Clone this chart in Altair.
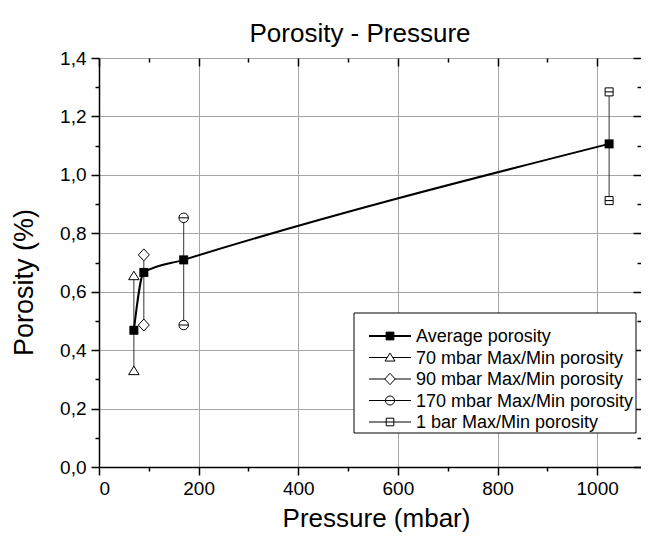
import altair as alt
import pandas as pd

# ---- data ----
pressure = [70, 90, 170, 1024]
avg_porosity = [0.468, 0.666, 0.709, 1.106]
max_porosity = [0.654, 0.726, 0.853, 1.284]
min_porosity = [0.329, 0.486, 0.486, 0.912]
series = [
    "Average porosity",
    "70 mbar Max/Min porosity",
    "90 mbar Max/Min porosity",
    "170 mbar Max/Min porosity",
    "1 bar Max/Min porosity",
]
title_text = ["Porosity - Pressure"]
x_major = [0, 200, 400, 600, 800, 1000]
x_minor = [100, 300, 500, 700, 900]
y_major = [0.0, 0.2, 0.4, 0.6, 0.8, 1.0, 1.2, 1.4]
y_minor = [0.1, 0.3, 0.5, 0.7, 0.9, 1.1, 1.3]

FONT = "Liberation Sans"

avg_df = pd.DataFrame({"pressure": pressure, "porosity": avg_porosity})
err_df = pd.DataFrame({"pressure": pressure, "lo": min_porosity, "hi": max_porosity,
                       "series": series[1:]})
mk_rows = []
for p, lo, hi, s in zip(pressure, min_porosity, max_porosity, series[1:]):
    mk_rows.append({"pressure": p, "porosity": hi, "series": s})
    mk_rows.append({"pressure": p, "porosity": lo, "series": s})
mk_df = pd.DataFrame(mk_rows)
leg_df = pd.DataFrame({"series": series})
box_df = pd.DataFrame({"series": series[:1]})
title_df = pd.DataFrame({"t": title_text})

# marker shapes (unit = 5px at size 100)
TRI = "M0,-0.95L1.05,0.75L-1.05,0.75Z"
DIA = "M0,-1.2L1.1,0L0,1.2L-1.1,0Z"
CIR = "M-0.95,0A0.95,0.95 0 1,1 0.95,0A0.95,0.95 0 1,1 -0.95,0ZM-0.95,0L0.95,0"
SQL = "M-0.8,-0.8L0.8,-0.8L0.8,0.8L-0.8,0.8ZM-0.8,0L0.8,0"
plot_shapes = [TRI, DIA, CIR, SQL]
legend_shapes = ["M-0.82,-0.82L0.82,-0.82L0.82,0.82L-0.82,0.82Z"] + plot_shapes

xscale = alt.Scale(domain=[0, 1088], nice=False, zero=False)
yscale = alt.Scale(domain=[0, 1.4], nice=False, zero=False)
YLAB = "replace(format(datum.value, '.1f'), '.', ',')"

common = dict(tickColor="black", tickWidth=1.5, labelFont=FONT, labelColor="black",
              titleFont=FONT, titleColor="black", titleFontWeight="normal")

ax_x_major = alt.Axis(values=x_major, tickSize=8, grid=True, gridColor="#a6a6a6",
                      gridWidth=1, domainColor="black", domainWidth=1.5, labelFontSize=19,
                      labelPadding=4, format="d", title="Pressure (mbar)",
                      titleFontSize=26, titleX=277, titleY=59, titleBaseline="alphabetic",
                      orient="bottom", **common)
ax_x_minor = alt.Axis(values=x_minor, tickSize=4, grid=False, domain=False, labels=False,
                      title=None, orient="bottom", tickColor="black", tickWidth=1.5)
ax_x_top = alt.Axis(values=x_major, tickSize=8, grid=False, domain=False, labels=False,
                    title=None, orient="top", offset=-8, tickColor="black", tickWidth=1.5)
ax_x_top_minor = alt.Axis(values=x_minor, tickSize=4, grid=False, domain=False, labels=False,
                          title=None, orient="top", offset=-4, tickColor="black", tickWidth=1.5)

ax_y_major = alt.Axis(values=y_major, tickSize=8, grid=True, gridColor="#a6a6a6",
                      gridWidth=1, domainColor="black", domainWidth=1.5, labelFontSize=19,
                      labelPadding=5, labelExpr=YLAB, title="Porosity (%)",
                      titleFontSize=27, titleX=-67, titleY=224, titleAngle=270,
                      titleBaseline="alphabetic", titleAlign="center",
                      orient="left", **common)
ax_y_minor = alt.Axis(values=y_minor, tickSize=4, grid=False, domain=False, labels=False,
                      title=None, orient="left", tickColor="black", tickWidth=1.5)
ax_y_right = alt.Axis(values=y_major, tickSize=8, grid=False, domain=False, labels=False,
                      title=None, orient="right", offset=-8, tickColor="black", tickWidth=1.5)
ax_y_right_minor = alt.Axis(values=y_minor, tickSize=4, grid=False, domain=False, labels=False,
                            title=None, orient="right", offset=-4, tickColor="black",
                            tickWidth=1.5)

rules = alt.Chart(err_df).mark_rule(color="#333333", strokeWidth=1).encode(
    x=alt.X("pressure:Q", scale=xscale, axis=ax_x_major),
    y=alt.Y("lo:Q", scale=yscale, axis=ax_y_major),
    y2="hi:Q",
)

line = alt.Chart(avg_df).mark_line(color="black", strokeWidth=2, interpolate="monotone").encode(
    x=alt.X("pressure:Q", scale=xscale, axis=ax_x_minor),
    y=alt.Y("porosity:Q", scale=yscale, axis=ax_y_minor),
)

avg_pts = alt.Chart(avg_df).mark_point(shape="square", filled=True, color="black",
                                       size=81, opacity=1).encode(
    x=alt.X("pressure:Q", scale=xscale, axis=ax_x_top),
    y=alt.Y("porosity:Q", scale=yscale, axis=ax_y_right),
)

markers = alt.Chart(mk_df).mark_point(filled=False, stroke="black", fill="white",
                                      strokeWidth=1, size=100, opacity=1).encode(
    x=alt.X("pressure:Q", scale=xscale, axis=ax_x_top_minor),
    y=alt.Y("porosity:Q", scale=yscale, axis=ax_y_right_minor),
    shape=alt.Shape("series:N", scale=alt.Scale(domain=series[1:], range=plot_shapes),
                    legend=None),
)

# ---- legend drawn as marks: rows placed by a point scale over the series ----
LY = alt.Y("series:N", scale=alt.Scale(type="point", domain=series, range=[278, 364],
                                       padding=0), axis=None)

leg_box = alt.Chart(box_df).mark_rect(fill="white", stroke="black", strokeWidth=1).encode(
    x=alt.value(255), x2=alt.value(537), y=alt.value(255), y2=alt.value(375))

leg_lines = alt.Chart(leg_df).mark_rule(color="black").encode(
    x=alt.value(270), x2=alt.value(312), y=LY,
    strokeWidth=alt.condition(alt.datum.series == series[0], alt.value(2), alt.value(1)),
)

leg_syms = alt.Chart(leg_df).mark_point(stroke="black", strokeWidth=1, size=90,
                                        opacity=1).encode(
    x=alt.value(291), y=LY,
    shape=alt.Shape("series:N", scale=alt.Scale(domain=series, range=legend_shapes),
                    legend=None),
    fill=alt.condition(alt.datum.series == series[0], alt.value("black"), alt.value("white")),
)

leg_text = alt.Chart(leg_df).mark_text(align="left", baseline="middle", font=FONT,
                                       fontSize=18, color="black", dy=1).encode(
    x=alt.value(317), y=LY, text="series:N")

title = alt.Chart(title_df).mark_text(align="center", baseline="alphabetic", font=FONT,
                                      fontSize=26, color="black").encode(
    x=alt.value(261), y=alt.value(-16), text="t:N")

chart = alt.layer(rules, line, avg_pts, markers, leg_box, leg_lines, leg_syms, leg_text,
                  title).resolve_scale(
    shape="independent", y="independent"
).resolve_axis(
    x="independent", y="independent"
).properties(
    width=542, height=409,
    autosize=alt.AutoSizeParams(type="none"),
    padding={"left": 91, "top": 50, "right": 0, "bottom": 65},
).configure_view(stroke="black", strokeWidth=1.5).configure(background="white")

chart.save("out.html", embed_options={"renderer": "svg", "actions": False})
